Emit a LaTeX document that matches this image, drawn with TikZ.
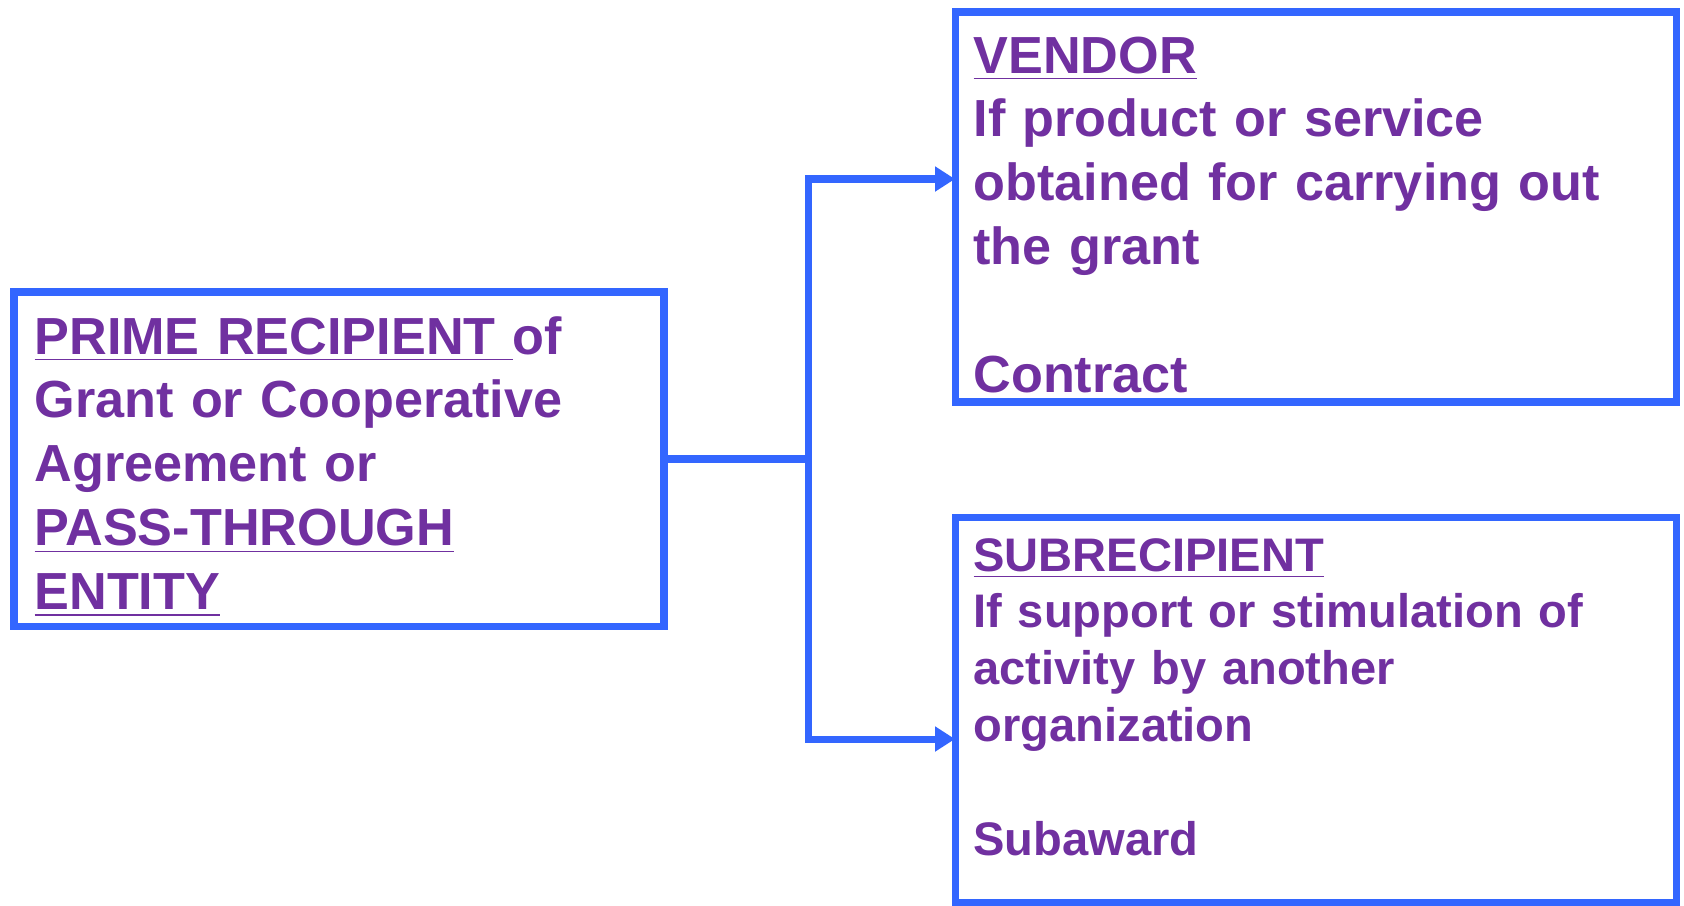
\documentclass[tikz,border=0pt]{standalone}
\usepackage{fontspec}
\setmainfont{Liberation Sans}
\usetikzlibrary{arrows.meta}
\definecolor{boxblue}{RGB}{51,102,255}
\definecolor{txtpurple}{RGB}{112,48,160}

\begin{document}
\begin{tikzpicture}[->,>={Triangle[length=0.2cm,width=0.24cm]},line width=2pt,
  box/.style={rectangle,draw=boxblue,inner sep=0pt,outer sep=0pt},
  big text/.style={text=txtpurple,align=left,text width=7cm,inner sep=0pt,anchor=base west,font=\bfseries\fontsize{14.85pt}{18.2pt}\selectfont},
  small text/.style={big text,font=\bfseries\fontsize{13.4pt}{16.2pt}\selectfont}]
  \useasboundingbox (0,0) rectangle (16.84,9.05);
  \node[box,minimum width=6.50cm,minimum height=3.34cm] (prime) at (3.39,4.46) {};
  \node[box,minimum width=7.21cm,minimum height=3.90cm] (vendor) at (13.155,6.98) {};
  \node[box,minimum width=7.21cm,minimum height=3.85cm] (sub) at (13.155,1.955) {};

  \node[big text] (primetext) at (0.31,5.51) {\underline{PRIME RECIPIENT\ }of\\
    Grant or Cooperative\\ Agreement or\\ \underline{PASS-THROUGH}\\ \underline{ENTITY}};
  \node[big text] (vendortext) at (9.70,8.32) {\underline{VENDOR}\\
    If product or service\\ obtained for carrying out\\ the grant\\[18.2pt] Contract};
  \node[small text] (subtext) at (9.70,3.34) {\underline{SUBRECIPIENT}\\
    If support or stimulation of\\ activity by another\\ organization\\[16.2pt] Subaward};

\path[draw=boxblue]
  (prime.east) -- ++(1.44,0) |- ([yshift=0.28cm]vendor.west);
\path[draw=boxblue]
  (prime.east) -- ++(1.44,0) |- ([yshift=-0.295cm]sub.west);
\end{tikzpicture}
\end{document}
